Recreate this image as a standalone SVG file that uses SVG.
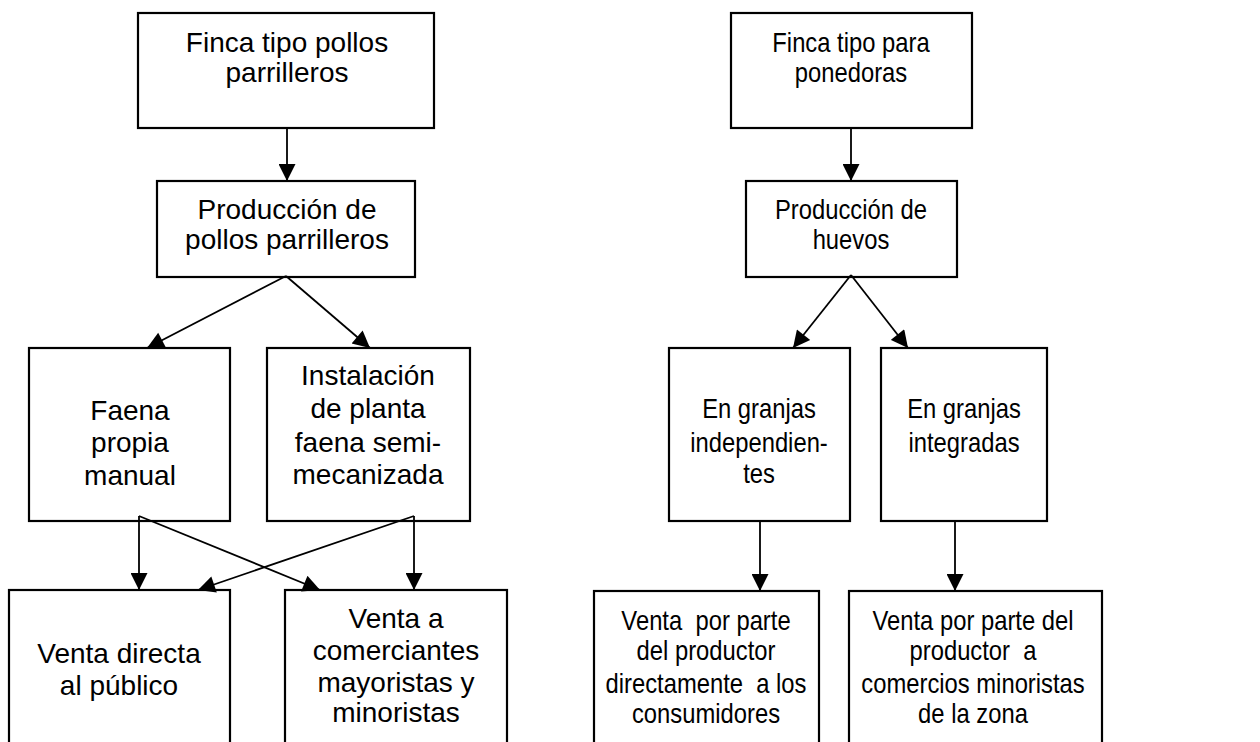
<svg xmlns="http://www.w3.org/2000/svg" width="1260" height="742" viewBox="0 0 1260 742">
<style>
.box{fill:#fff;stroke:#000;stroke-width:2.2}
.t{font-family:"Liberation Sans",Arial,sans-serif;font-size:28px;fill:#000;text-anchor:middle;white-space:pre}
.c{stroke:#000;stroke-width:1.8;fill:none;marker-end:url(#ah)}
</style>
<defs>
<marker id="ah" viewBox="0 0 10 10" refX="10" refY="5" markerUnits="userSpaceOnUse" markerWidth="19" markerHeight="17" orient="auto">
<path d="M0,0 L10,5 L0,10 z" fill="#000"/>
</marker>
</defs>
<rect width="1260" height="742" fill="#fff"/>
<g id="n1"><rect class="box" x="138" y="13" width="296" height="115"/>
<text class="t" x="287" y="52">Finca tipo pollos</text><text class="t" x="287" y="82">parrilleros</text></g>
<g id="n2"><rect class="box" x="157" y="181" width="258" height="96"/>
<text class="t" x="287" y="219">Producción de</text><text class="t" x="287" y="249">pollos parrilleros</text></g>
<g id="n3"><rect class="box" x="29" y="348" width="201" height="173"/>
<text class="t" x="130" y="420">Faena</text><text class="t" x="130" y="452">propia</text><text class="t" x="130" y="485">manual</text></g>
<g id="n4"><rect class="box" x="267" y="348" width="203" height="173"/>
<text class="t" x="368" y="385">Instalación</text><text class="t" x="368" y="418">de planta</text><text class="t" x="368" y="452">faena semi-</text><text class="t" x="368" y="484">mecanizada</text></g>
<g id="n5"><rect class="box" x="9" y="590" width="221" height="180"/>
<text class="t" x="119" y="663">Venta directa</text><text class="t" x="119" y="695">al público</text></g>
<g id="n6"><rect class="box" x="285" y="590" width="222" height="180"/>
<text class="t" x="396" y="628">Venta a</text><text class="t" x="396" y="660">comerciantes</text><text class="t" x="396" y="692">mayoristas y</text><text class="t" x="396" y="722">minoristas</text></g>
<g id="n7"><rect class="box" x="731" y="13" width="241" height="115"/>
<g transform="translate(851 0) scale(0.85 1)"><text class="t" x="0" y="52">Finca tipo para</text><text class="t" x="0" y="82">ponedoras</text></g></g>
<g id="n8"><rect class="box" x="746" y="181" width="211" height="96"/>
<g transform="translate(851 0) scale(0.85 1)"><text class="t" x="0" y="219">Producción de</text><text class="t" x="0" y="249">huevos</text></g></g>
<g id="n9"><rect class="box" x="669" y="348" width="181" height="173"/>
<g transform="translate(759 0) scale(0.85 1)"><text class="t" x="0" y="418">En granjas</text><text class="t" x="0" y="452">independien-</text><text class="t" x="0" y="483">tes</text></g></g>
<g id="n10"><rect class="box" x="881" y="348" width="166" height="173"/>
<g transform="translate(964 0) scale(0.85 1)"><text class="t" x="0" y="418">En granjas</text><text class="t" x="0" y="452">integradas</text></g></g>
<g id="n11"><rect class="box" x="594" y="591" width="225" height="180"/>
<g transform="translate(706 0) scale(0.85 1)"><text class="t" x="0" y="630">Venta  por parte</text><text class="t" x="0" y="660">del productor</text><text class="t" x="0" y="693">directamente  a los</text><text class="t" x="0" y="723">consumidores</text></g></g>
<g id="n12"><rect class="box" x="849" y="591" width="253" height="180"/>
<g transform="translate(973 0) scale(0.85 1)"><text class="t" x="0" y="630">Venta por parte del</text><text class="t" x="0" y="660">productor  a</text><text class="t" x="0" y="693">comercios minoristas</text><text class="t" x="0" y="723">de la zona</text></g></g>
<g id="connectors">
<line class="c" x1="287" y1="128" x2="287" y2="181"/>
<line class="c" x1="286" y1="276" x2="147" y2="348"/>
<line class="c" x1="286" y1="276" x2="370" y2="348"/>
<line class="c" x1="139" y1="516" x2="139" y2="590"/>
<line class="c" x1="139" y1="516" x2="320" y2="590"/>
<line class="c" x1="414" y1="516" x2="414" y2="590"/>
<line class="c" x1="414" y1="516" x2="198" y2="590"/>
<line class="c" x1="851" y1="128" x2="851" y2="181"/>
<line class="c" x1="851" y1="275" x2="793" y2="348"/>
<line class="c" x1="851" y1="275" x2="908" y2="348"/>
<line class="c" x1="760" y1="521" x2="760" y2="591"/>
<line class="c" x1="955" y1="521" x2="955" y2="591"/>
</g>
</svg>
